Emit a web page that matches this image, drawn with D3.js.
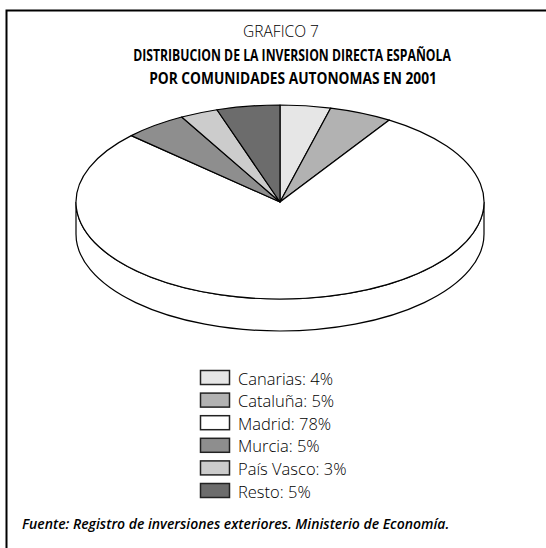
<!DOCTYPE html>
<html>
<head>
<meta charset="utf-8">
<script src="https://cdn.jsdelivr.net/npm/d3@7/dist/d3.min.js"></script>
<style>
  body { margin: 0; background: #fff; }
  svg { display: block; }
</style>
</head>
<body>
<div id="main"></div>
<script>
const regions = ['Canarias', 'Cataluña', 'Madrid', 'Murcia', 'País Vasco', 'Resto'];
const shares = [4, 5, 78, 5, 3, 5];
const shades = ['#e6e6e6', '#b2b2b2', '#ffffff', '#8e8e8e', '#cccccc', '#6c6c6c'];

const titleLines = ['GRAFICO 7', 'DISTRIBUCION DE LA INVERSION DIRECTA ESPAÑOLA', 'POR COMUNIDADES AUTONOMAS EN 2001'];
const source = 'Fuente: Registro de inversiones exteriores. Ministerio de Economía.';

const width = 546;
const height = 548;

const svg = d3.select('#main').append('svg')
    .attr('width', width)
    .attr('height', height);

// frame (only top and left edges fall inside the picture)
svg.append('rect')
    .attr('x', 6.5)
    .attr('y', 10.5)
    .attr('width', 700)
    .attr('height', 700)
    .attr('fill', 'none')
    .attr('stroke', '#000')
    .attr('stroke-width', 2);

// titles - the original face is condensed, so squeeze each line to its measured width
const titleX = [281, 292, 293];
const titleY = [37, 61, 84];
const titleWidths = [76, 318, 288];
svg.selectAll('text.title')
    .data(titleLines)
    .enter()
    .append('text')
    .attr('class', 'title')
    .attr('text-anchor', 'middle')
    .style('font-family', '"Open Sans", sans-serif')
    .style('font-weight', (d, i) => i === 0 ? 300 : 'bold')
    .style('font-size', '16.5px')
    .text((d) => d)
    .each(function(d, i) {
        const natural = this.getComputedTextLength();
        const sx = titleWidths[i] / natural;
        d3.select(this).attr('transform', `translate(${titleX[i]}, ${titleY[i]}) scale(${sx}, 1)`);
    });

// 3D pie
const cx = 280;
const cy = 202;
const rx = 204;
const ry = 97;
const depth = 32;

const pie = d3.pie().sort(null).value((d) => d)(shares);
const color = d3.scaleOrdinal().domain(regions).range(shades);

// side band (front half)
svg.append('path')
    .attr('d', `M${cx - rx},${cy} L${cx - rx},${cy + depth} A${rx},${ry} 0 0 0 ${cx + rx},${cy + depth} L${cx + rx},${cy} A${rx},${ry} 0 0 1 ${cx - rx},${cy} Z`)
    .attr('fill', '#fff')
    .attr('stroke', '#000')
    .attr('stroke-width', 1.2);

const arc = d3.arc().innerRadius(0).outerRadius(rx);
svg.append('g')
    .attr('transform', `translate(${cx}, ${cy}) scale(1, ${ry / rx})`)
    .selectAll('path')
    .data(pie)
    .enter()
    .append('path')
    .attr('d', arc)
    .attr('fill', (d, i) => color(regions[i]))
    .attr('stroke', '#000')
    .attr('stroke-width', 1.2)
    .attr('vector-effect', 'non-scaling-stroke')
    .attr('stroke-linejoin', 'round');

// legend
const legend = svg.append('g')
    .attr('transform', 'translate(200, 370)');
const rows = legend.selectAll('g')
    .data(regions)
    .enter()
    .append('g')
    .attr('transform', (d, i) => `translate(0, ${i * 22.6})`);
rows.append('rect')
    .attr('x', 0.5).attr('y', 0.5)
    .attr('width', 29).attr('height', 14)
    .attr('fill', (d) => color(d))
    .attr('stroke', '#222')
    .attr('stroke-width', 1.5);
rows.append('text')
    .attr('x', 38)
    .attr('y', 14.5)
    .style('font-family', '"Open Sans", sans-serif')
    .style('font-weight', 300)
    .style('font-size', '16.5px')
    .text((d, i) => `${d}: ${shares[i]}%`);

// source note
svg.append('text')
    .attr('x', 22)
    .attr('y', 529)
    .style('font-family', '"Open Sans", sans-serif')
    .style('font-style', 'italic')
    .style('font-weight', 600)
    .style('font-size', '14px')
    .text(source);
</script>
</body>
</html>
